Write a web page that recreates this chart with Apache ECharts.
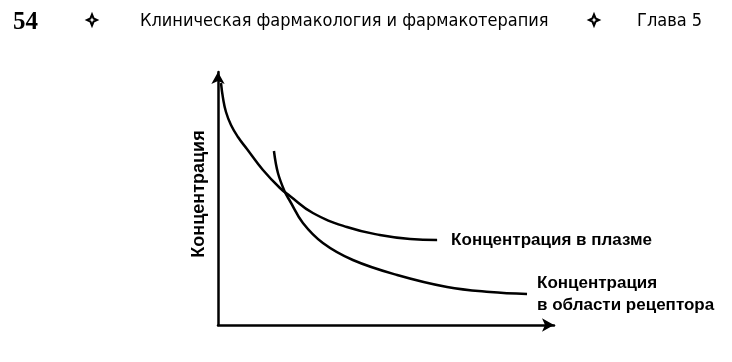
<!DOCTYPE html>
<html>
<head>
<meta charset="utf-8">
<script src="https://cdn.jsdelivr.net/npm/echarts@6/dist/echarts.min.js"></script>
<style>
html,body{margin:0;padding:0;background:#fff;}
#c{width:732px;height:362px;}
</style>
</head>
<body>
<div id="c"></div>
<script>
// Schematic data (arbitrary units: time, concentration)
const plasmaTime = [0.9, 1.5, 2.4, 3.9, 6.0, 8.7, 13.5, 18.6, 21.6, 28.5, 38.7, 48.6, 57.7, 65.8];
const plasmaConc = [96.8, 90.8, 85.2, 80.0, 75.2, 70.4, 62.0, 54.8, 51.6, 44.8, 39.2, 36.0, 34.4, 34.0];
const receptorTime = [16.8, 18, 20.1, 21.6, 25.5, 31.5, 40.5, 53.8, 68.8, 81.7, 92.8];
const receptorConc = [69.6, 60.8, 53.2, 49.6, 40.8, 32.8, 26, 20, 15.2, 13.2, 12.4];

const yAxisName = 'Концентрация';
const plasmaLabel = 'Концентрация в плазме';
const receptorLabel = 'Концентрация\nв области рецептора';
const headerPage = '54';
const headerTitle = 'Клиническая фармакология и фармакотерапия';
const headerChapter = 'Глава 5';

const zip = (a, b) => a.map((v, i) => [v, b[i]]);

const chart = echarts.init(document.getElementById('c'), null, {renderer: 'canvas'});
const axisLine = {show: true, onZero: false, symbol: ['none', 'arrow'], symbolSize: [10, 12],
  lineStyle: {color: '#000', width: 2.5}};
const star = [[0,-5.5],[1.6,-1.6],[5,0],[1.6,1.6],[0,5.5],[-1.6,1.6],[-5,0],[-1.6,-1.6]];
chart.setOption({
  animation: false,
  backgroundColor: '#fff',
  grid: {left: 218, right: 178, top: 72, bottom: 37, containLabel: false},
  xAxis: {type: 'value', min: 0, max: 100.9, splitLine: {show: false}, axisTick: {show: false},
    axisLabel: {show: false}, axisLine: axisLine},
  yAxis: {type: 'value', min: 0, max: 101.2, splitLine: {show: false}, axisTick: {show: false},
    axisLabel: {show: false}, axisLine: axisLine},
  series: [
    {
      type: 'line', data: zip(plasmaTime, plasmaConc), smooth: 0.45, showSymbol: false, symbol: 'none',
      lineStyle: {color: '#000', width: 2.5},
      endLabel: {show: true, formatter: plasmaLabel, distance: 14, color: '#000',
        fontFamily: 'Liberation Sans', fontWeight: 'bold', fontSize: 17, align: 'left'}
    },
    {
      type: 'line', data: zip(receptorTime, receptorConc), smooth: 0.4, showSymbol: false, symbol: 'none',
      lineStyle: {color: '#000', width: 2.5},
      endLabel: {show: true, formatter: receptorLabel, distance: 10, color: '#000', lineHeight: 22,
        fontFamily: 'Liberation Sans', fontWeight: 'bold', fontSize: 17, align: 'left'}
    }
  ],
  graphic: [
    {type: 'text', x: 199, y: 194, rotation: Math.PI / 2,
      style: {text: yAxisName, font: 'bold 18px "Liberation Sans"', fill: '#000', align: 'center', verticalAlign: 'middle'}},
    {type: 'text', left: 13, top: 10, style: {text: headerPage, font: 'bold 25px "Liberation Serif"', fill: '#000'}},
    {type: 'polygon', x: 92, y: 20, shape: {points: star}, style: {fill: '#fff', stroke: '#000', lineWidth: 2}},
    {type: 'text', left: 140, top: 12, style: {text: headerTitle, font: '18px "Liberation Sans Narrow", "DejaVu Sans Condensed"', fill: '#000'}},
    {type: 'polygon', x: 594, y: 20, shape: {points: star}, style: {fill: '#fff', stroke: '#000', lineWidth: 2}},
    {type: 'text', left: 637, top: 12, style: {text: headerChapter, font: '18px "Liberation Sans Narrow", "DejaVu Sans Condensed"', fill: '#000'}}
  ]
});
</script>
</body>
</html>
